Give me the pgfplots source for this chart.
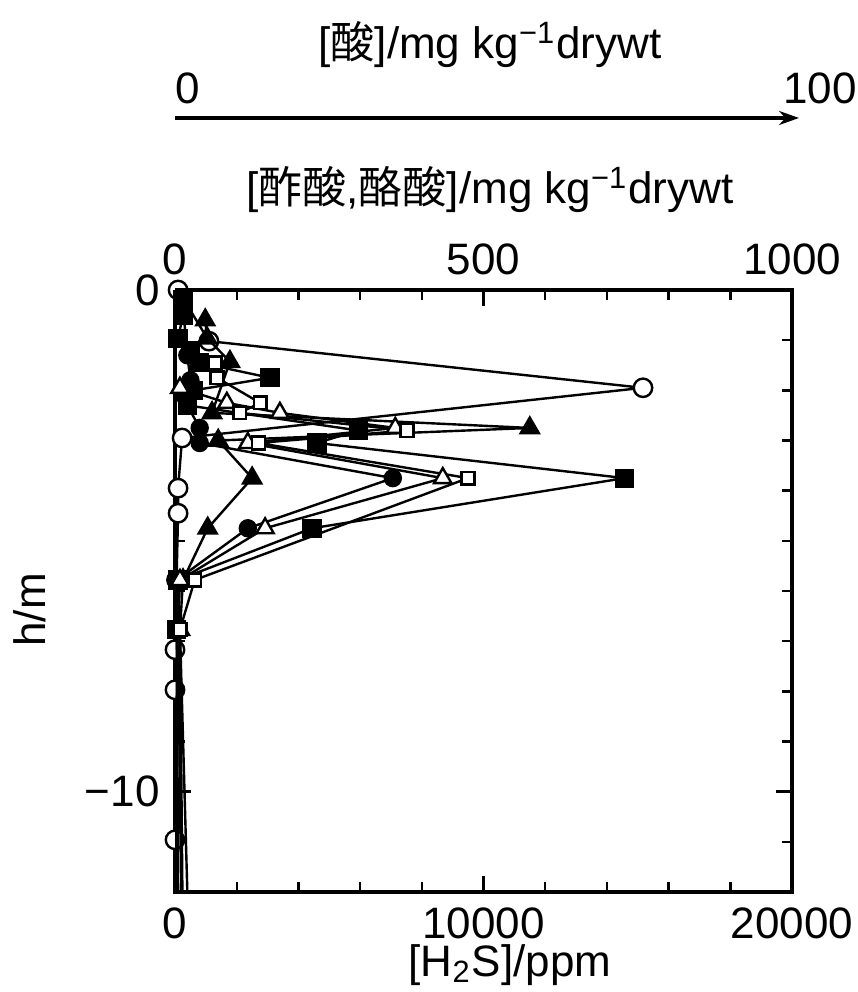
\documentclass[border=0pt]{standalone}
\usepackage{fontspec}
\setmainfont{Liberation Sans}
\newfontfamily\cjk{Noto Sans CJK JP}
\usepackage{pgfplots}
\pgfplotsset{compat=1.18}
\usetikzlibrary{arrows.meta}
\pgfplotsset{
  base/.style={
    at={(0pt,0pt)}, anchor=south west,
    scale only axis, width=154.25pt, height=150.5pt,
    ymin=-12, ymax=0, clip=false,
    axis line style={line width=0.8pt},
    tick align=inside,
    every tick/.style={black, line width=0.6pt},
    major tick length=4pt, minor tick length=2.4pt,
    /pgf/number format/assume math mode=true,
    scaled ticks=false,
  },
  ser/.style={black, line width=0.6pt},
}
\begin{document}
\fontsize{11}{13}\selectfont
\begin{tikzpicture}
\useasboundingbox (-43.75pt,-25pt) rectangle (170.5pt,223pt);
% main axis: H2S (bottom) and depth
\begin{axis}[base,
  xmin=0, xmax=20000,
  xtick={0,10000,20000}, xticklabels={0,10000,20000},
  minor xtick={2000,4000,6000,8000,12000,14000,16000,18000},
  xtick pos=bottom,
  ytick={0,-10}, yticklabels={0,−10},
  minor ytick={-1,-2,-3,-4,-5,-6,-7,-8,-9,-11},
  ytick pos=both,
]
% open circles : H2S
\addplot[ser, mark=*, mark size=2.3pt, mark options={fill=white, line width=0.6pt},
  mark indices={1,...,10}] coordinates {
(100,0) (1100,-1.02) (15170,-1.95) (230,-2.95) (100,-3.95) (100,-4.45) (50,-5.78)
(0,-7.17) (0,-7.97) (0,-10.96) (0,-12)};
\end{axis}
% top axis: acetic / butyric acid
\begin{axis}[base,
  xmin=0, xmax=1000,
  axis x line*=top, hide y axis,
  xtick={0,500,1000}, xticklabels={0,500,1000},
  minor xtick={100,200,300,400,600,700,800,900},
]
% filled squares
\addplot[ser, mark=square*, mark size=2.1pt, mark indices={1,...,14}] coordinates {
(13,-0.2) (13,-0.5) (5,-0.96) (25,-1.2) (40,-1.45) (154,-1.75) (30,-2.0) (20,-2.3) (297,-2.8) (230,-3.05)
(729,-3.75) (222,-4.75) (5,-5.78) (3,-6.77) (5,-12)};
% filled circles
\addplot[ser, mark=*, mark size=2pt, mark indices={1,...,11}] coordinates {
(13,-0.35) (20,-1.3) (25,-1.8) (15,-2.1) (20,-2.3) (40,-2.75) (40,-3.05) (353,-3.75) (118,-4.75)
(3,-5.78) (3,-6.77) (2,-12)};
% filled triangles
\addplot[ser, mark=triangle*, mark size=2.6pt, mark indices={1,...,10}] coordinates {
(49,-0.6) (52,-0.96) (89,-1.43) (60,-2.45) (575,-2.75) (70,-3.0) (125,-3.75) (53,-4.75)
(13,-5.78) (8,-6.77) (12,-12)};
% open triangles
\addplot[ser, mark=triangle*, mark size=2.5pt, mark options={fill=white, line width=0.6pt},
  mark indices={1,...,9}] coordinates {
(8,-1.95) (84,-2.25) (170,-2.45) (357,-2.75) (118,-3.05) (434,-3.75) (146,-4.75)
(8,-5.78) (5,-6.77) (10,-12)};
% open squares
\addplot[ser, mark=square*, mark size=1.6pt, mark options={fill=white, line width=0.6pt},
  mark indices={1,...,9}] coordinates {
(65,-1.45) (68,-1.75) (138,-2.25) (105,-2.45) (376,-2.8) (135,-3.05) (475,-3.75)
(32,-5.78) (8,-6.77) (20,-12)};
\end{axis}
% titles and third (arrow) axis
\node at (78.75pt,175.5pt) {[{\cjk 酢酸},{\cjk 酪酸}]/mg kg\textsuperscript{−1}drywt};
\draw[-{Stealth[length=5pt,width=3.5pt]}, line width=0.8pt] (0pt,193.5pt) -- (156pt,193.5pt);
\node at (3.25pt,201pt) {0};
\node at (161.25pt,201pt) {100};
\node at (78.75pt,211.75pt) {[{\cjk 酸}]/mg kg\textsuperscript{−1}drywt};
\node[rotate=90] at (-36.25pt,70.5pt) {h/m};
\node at (83.75pt,-18.25pt) {[H\textsubscript{2}S]/ppm};
\end{tikzpicture}
\end{document}
